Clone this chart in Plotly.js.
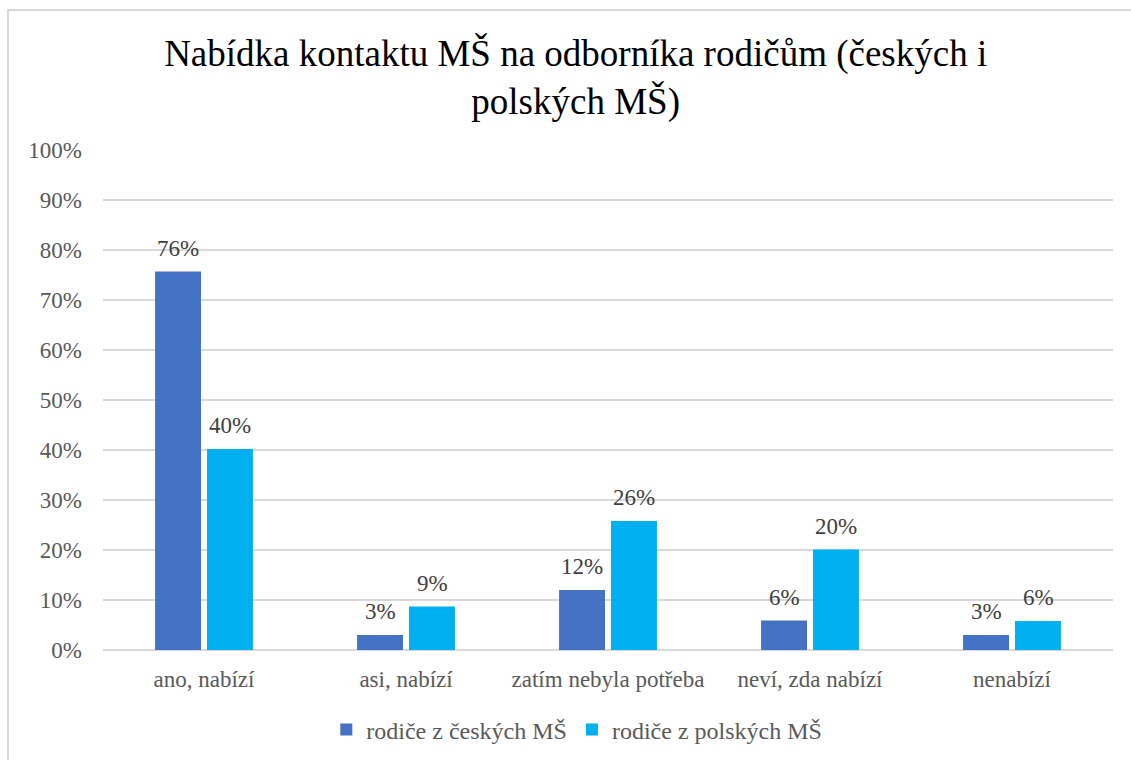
<!DOCTYPE html>
<html>
<head>
<meta charset="utf-8">
<script src="https://cdn.plot.ly/plotly-3.0.1.min.js"></script>
<style>
  html, body { margin: 0; padding: 0; background: #ffffff; }
  #chart { width: 1131px; height: 760px; position: relative; }
  #frame { position: absolute; left: 7px; top: 9px; width: 1140px; height: 780px;
           border: 2px solid #d9d9d9; pointer-events: none; box-sizing: border-box; }
</style>
</head>
<body>
<div id="chart"></div>
<div id="frame"></div>
<script>
const categories = ["ano, nabízí", "asi, nabízí", "zatím nebyla potřeba", "neví, zda nabízí", "nenabízí"];
const seriesNames = ["rodiče z českých MŠ", "rodiče z polských MŠ"];
const czechValues = [75.7, 3.0, 12.0, 5.9, 3.0];
const polishValues = [40.2, 8.7, 25.8, 20.1, 5.8];
const yTickValues = [0, 10, 20, 30, 40, 50, 60, 70, 80, 90, 100];
const yTickLabels = ["0%", "10%", "20%", "30%", "40%", "50%", "60%", "70%", "80%", "90%", "100%"];
const titleText = "Nabídka kontaktu MŠ na odborníka rodičům (českých i<br>polských MŠ)";

const font = "Liberation Serif";
const seriesColors = ["#4472C4", "#00B0F0"];
const seriesValues = [czechValues, polishValues];

const traces = seriesValues.map((vals, s) => ({
  type: "bar", name: seriesNames[s], x: categories, y: vals,
  marker: { color: seriesColors[s] },
  hoverinfo: "x+y"
}));

// data labels above each bar, positioned through the axes (category + value)
const annotations = [];
seriesValues.forEach((vals, s) => {
  vals.forEach((v, i) => {
    annotations.push({
      x: categories[i], y: v, xref: "x", yref: "y",
      text: Math.round(v) + "%", showarrow: false,
      xanchor: "center", yanchor: "bottom",
      xshift: s === 0 ? -26 : 26, yshift: 10,
      borderpad: 0,
      font: { family: font, size: 23, color: "#404040" }
    });
  });
});

const layout = {
  width: 1131, height: 760,
  margin: { l: 103, r: 18, t: 150, b: 110, autoexpand: false },
  paper_bgcolor: "rgba(0,0,0,0)",
  plot_bgcolor: "#ffffff",
  font: { family: font, size: 23, color: "#595959" },
  title: {
    text: titleText,
    font: { family: font, size: 37, color: "#000000" },
    x: 0.509, xref: "container", xanchor: "center",
    y: 0.913, yref: "container", yanchor: "top"
  },
  barmode: "group",
  bargap: 0.486,
  bargroupgap: 0.115,
  xaxis: {
    type: "category",
    showgrid: false, showline: false, zeroline: false,
    ticks: "", ticklabelstandoff: 13,
    tickfont: { family: font, size: 23, color: "#595959" }
  },
  yaxis: {
    range: [0, 100], tickvals: yTickValues, ticktext: yTickLabels,
    showgrid: true, gridcolor: "#d9d9d9", gridwidth: 1.5,
    zeroline: true, zerolinecolor: "#d9d9d9", zerolinewidth: 1.5,
    showline: false, ticks: "", ticklabelstandoff: 20,
    tickfont: { family: font, size: 23, color: "#595959" }
  },
  legend: {
    orientation: "h", x: 0.51, xref: "container", xanchor: "center",
    y: -0.16, yanchor: "middle",
    font: { family: font, size: 24, color: "#595959" },
    itemwidth: 30, traceorder: "normal"
  },
  annotations: annotations,
  showlegend: true
};

Plotly.newPlot("chart", traces, layout, { displayModeBar: false, staticPlot: true });
</script>
</body>
</html>
